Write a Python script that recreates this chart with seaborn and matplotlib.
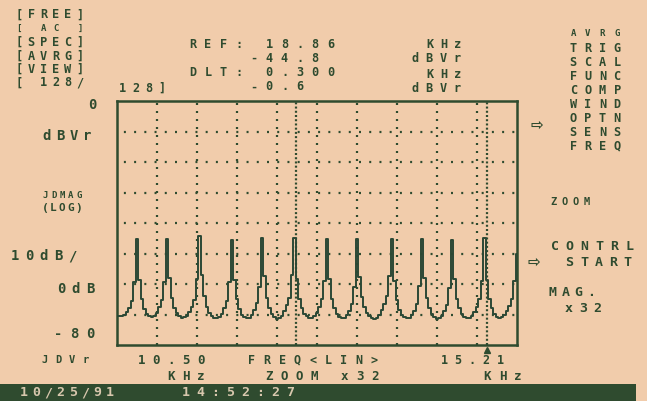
import numpy as np
import pandas as pd
import matplotlib
matplotlib.use("Agg")
import matplotlib.pyplot as plt
from matplotlib.patches import Rectangle
import seaborn as sns

# ---- sweep data -------------------------------------------------------
freq_start_khz = 10.50
freq_stop_khz = 15.59
level_min_dbvr = -80
level_max_dbvr = 0

# averaged level per frequency bin (dBVr)
level_dbvr = [
    -70.4, -70.4, -70.6, -70.2, -69.3,
    -68.0, -65.6, -59.2, -45.4, -58.6, -65.0, -68.1, -69.8,
    -70.6, -70.8, -70.5, -69.5, -67.6, -65.1, -59.4, -45.2,
    -58.0, -64.5, -67.8, -69.6, -70.6, -71.0, -70.8, -70.4, -69.2, -67.4, -65.2, -58.5, -44.3,
    -57.0, -64.0, -67.5, -69.5, -70.5, -71.2, -71.2, -70.8, -69.8, -68.0, -65.5, -59.5, -45.6,
    -58.8, -65.0, -68.2, -70.0, -70.8, -71.2, -71.0, -70.3, -68.6, -66.2, -61.0, -45.0,
    -57.5, -64.6, -67.8, -69.8, -70.8, -71.4, -71.2, -70.4, -69.0, -67.0, -64.5, -57.0, -44.8,
    -58.2, -64.8, -68.0, -69.8, -70.6, -71.0, -71.0, -70.4, -69.4, -67.6, -65.0, -59.0, -45.3,
    -58.4, -64.8, -68.0, -69.8, -70.8, -71.3, -71.1, -70.3, -68.8, -66.5, -61.0, -45.4,
    -57.8, -64.4, -67.6, -69.6, -70.6, -71.2, -71.4, -71.0, -70.2, -68.6, -66.6, -64.0, -57.5, -45.1,
    -59.0, -65.2, -68.4, -70.1, -70.9, -71.3, -71.0, -70.2, -68.8, -66.6, -60.5, -45.2,
    -58.0, -64.6, -67.9, -69.8, -70.8, -71.4, -71.2, -70.4, -69.0, -66.8, -61.2, -45.5,
    -58.4, -64.8, -68.0, -69.9, -70.8, -71.3, -71.2, -70.5, -69.3, -67.5, -65.0, -59.0, -45.0,
    -58.6, -64.8, -68.0, -69.8, -70.7, -71.1, -70.9, -70.2, -69.0, -67.2, -64.8, -59.0, -50.0,
]

marker_khz = [12.78, 15.21]
x_divisions = 10
y_divisions = 8

# ---- screen texts -----------------------------------------------------
status_lines = ["[FREE]", "[ AC ]", "[SPEC]", "[AVRG]", "[VIEW]", "[ 128/"]
readout_labels = ["REF: 18.86", "    -44.8", "DLT: 0.300", "    -0.6"]
readout_units = ["KHz", "dBVr", "KHz", "dBVr"]
menu_items = ["AVRG", "TRIG", "SCAL", "FUNC", "COMP", "WIND", "OPTN", "SENS", "FREQ"]
y_labels = ["0", "dBVr", "JDMAG", "(LOG)", "10dB/", "0dB", "-80"]
x_labels = ["JDVr", "10.50", "KHz", "FREQ<LIN>", "ZOOM x32", "15.21", "KHz"]
soft_keys = ["ZOOM", "CONTRL", "START", "MAG.", "x32"]
timestamp = ["10/25/91", "14:52:27"]

PAPER = "#f1ccab"
INK = "#2f4b2f"
TRACE = "#2b4835"
MONO = "DejaVu Sans Mono"
FS = 10          # isolated labels
FS_ROW = 8.6     # tightly stacked rows

sns.set_theme(style="white")
plt.rcParams["font.family"] = [MONO, "DejaVu Sans"]

W, H = 647, 401
fig = plt.figure(figsize=(W / 100, H / 100), dpi=100, facecolor=PAPER)

# overlay in screen pixel units for the character display
ov = fig.add_axes([0, 0, 1, 1])
ov.set_xlim(0, W)
ov.set_ylim(H, 0)
ov.axis("off")


def crt(x0, y, s, pitch=14.5, size=FS, color=INK, weight="bold"):
    """Draw a string on a fixed character pitch, like the instrument's display."""
    for i, ch in enumerate(s):
        if ch != " ":
            ov.text(x0 + (i + 0.5) * pitch, y, ch, ha="center", va="center",
                    fontsize=size, color=color, family=MONO, fontweight=weight)


# status block (top left)
status_y = [15, 28.5, 42.5, 56, 69.5, 83]
for s, y in zip(status_lines, status_y):
    small = s == "[ AC ]"
    crt(13, y, s, pitch=12.2, size=6.5 if small else FS_ROW)
crt(116, 88, "128]", pitch=13, size=FS_ROW)

# marker readouts
readout_y = [44, 58, 72, 87]
for s, y in zip(readout_labels, readout_y):
    crt(185, y, s, pitch=15.3, size=FS_ROW)
unit_pos = [(423, 45), (408, 59), (423, 74), (408, 89)]
for s, (x, y) in zip(readout_units, unit_pos):
    crt(x, y, s, pitch=14, size=FS_ROW)

# function menu (right)
menu_y = [33, 48, 62, 76, 90, 104, 118, 132, 146]
for s, y in zip(menu_items, menu_y):
    crt(566, y, s, pitch=14.6, size=6.5 if s == "AVRG" else FS_ROW)
ov.text(537, 125, "\u21e8", ha="center", va="center", fontsize=11,
        color=INK, family="DejaVu Sans", fontweight="bold")

# soft keys
crt(548, 202, soft_keys[0], pitch=11, size=7.5)
crt(547, 247, soft_keys[1], pitch=15, size=9.5)
crt(562, 263, soft_keys[2], pitch=14.6, size=9.5)
ov.text(534, 262, "\u21e8", ha="center", va="center", fontsize=11,
        color=INK, family="DejaVu Sans", fontweight="bold")
crt(546, 293, soft_keys[3], pitch=13, size=9.5)
crt(562, 309, soft_keys[4], pitch=14, size=9.5)

# y-axis captions
crt(86, 105, y_labels[0], pitch=13)
crt(40, 136, y_labels[1], pitch=13.5)
crt(41, 195, y_labels[2], pitch=8.4, size=6.5)
crt(41, 208, y_labels[3], pitch=8.4, size=8)
crt(8, 256, y_labels[4], pitch=14.4)
crt(54, 289, y_labels[5], pitch=14.6)
crt(50, 334, y_labels[6], pitch=16)

# x-axis captions
crt(38, 360, x_labels[0], pitch=13.5, size=7.5)
crt(134, 360, x_labels[1], pitch=14.8, size=9)
crt(164, 376, x_labels[2], pitch=14.8, size=9)
crt(244, 360, x_labels[3], pitch=15.3, size=8.5)
crt(261, 376, x_labels[4], pitch=15.2, size=9)
crt(437, 360, x_labels[5], pitch=14, size=8.5)
crt(480, 376, x_labels[6], pitch=15, size=9)

# time stamp bar
ov.add_patch(Rectangle((0, 384), 636, 17, facecolor=INK, edgecolor="none"))
crt(18, 393, timestamp[0], pitch=12.2, size=9.5, color="#d8c7ad")
crt(178, 393, timestamp[1], pitch=15, size=9.5, color="#d8c7ad")

# ---- spectrum plot ----------------------------------------------------
ax = fig.add_axes([117 / W, 1 - 345 / H, 400 / W, 244 / H])
ax.set_facecolor("none")
ax.set_xlim(freq_start_khz, freq_stop_khz)
ax.set_ylim(level_min_dbvr, level_max_dbvr)

span = freq_stop_khz - freq_start_khz
for k in range(1, x_divisions):
    ax.axvline(freq_start_khz + span * k / x_divisions, color=INK, lw=1.6,
               linestyle=(0, (0.9, 2.7)), dash_capstyle="butt", zorder=1)
for k in range(1, y_divisions):
    ax.axhline(level_min_dbvr + (level_max_dbvr - level_min_dbvr) * k / y_divisions,
               color=INK, lw=1.6, linestyle=(1.5, (0.9, 3.7)),
               dash_capstyle="butt", zorder=1)
for m in marker_khz:
    ax.axvline(m, color=INK, lw=1.6, linestyle=(0, (0.9, 1.0)),
               dash_capstyle="butt", zorder=1)

freq_khz = np.linspace(freq_start_khz, freq_stop_khz, len(level_dbvr))
df = pd.DataFrame({"freq_khz": freq_khz, "level_dbvr": level_dbvr})
sns.lineplot(data=df, x="freq_khz", y="level_dbvr", ax=ax, color=TRACE,
             lw=1.4, drawstyle="steps-mid", zorder=3)

# active marker indicator below the frame
ax.plot([marker_khz[1]], [level_min_dbvr - 1.6], marker="^", ms=5,
        color=INK, clip_on=False, zorder=4)

ax.set_xticks([])
ax.set_yticks([])
ax.set_xlabel("")
ax.set_ylabel("")
for side, sp in ax.spines.items():
    sp.set_visible(True)
    sp.set_color(INK)
    sp.set_linewidth(1.8)

fig.savefig("out.png", dpi=100, facecolor=PAPER)
